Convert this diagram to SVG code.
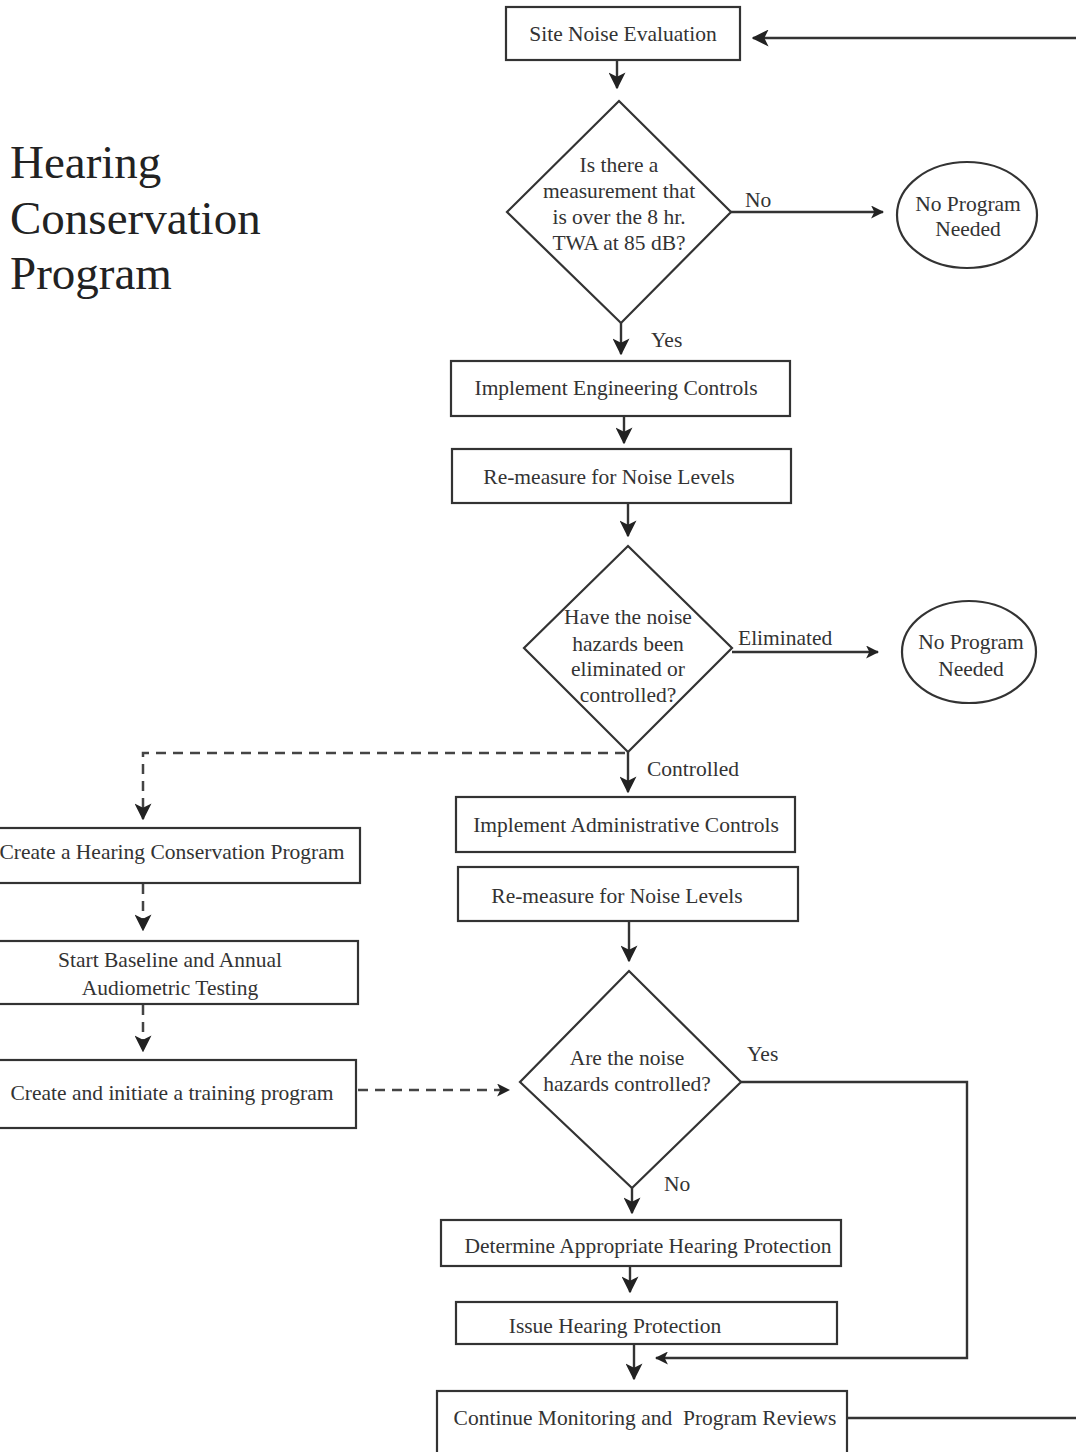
<svg xmlns="http://www.w3.org/2000/svg" width="1076" height="1452" viewBox="0 0 1076 1452">
<defs>
<style>
.box{fill:#fff;stroke:#333;stroke-width:2.2}
.t{font-family:"Liberation Serif","Times New Roman",serif;font-size:21.5px;fill:#333;text-anchor:middle}
.tl{font-family:"Liberation Serif","Times New Roman",serif;font-size:21.5px;fill:#333}
.title{font-family:"Liberation Serif","Times New Roman",serif;font-size:47px;fill:#222}
.c{fill:none;stroke:#333;stroke-width:2.4}
.d{fill:none;stroke:#444;stroke-width:2.5;stroke-dasharray:10 7}
</style>
<marker id="ah" viewBox="0 0 12 12" refX="11" refY="6" markerWidth="13" markerHeight="13" markerUnits="userSpaceOnUse" orient="auto">
<path d="M0,0 L12,6 L0,12 L3,6 Z" fill="#222"/>
</marker>
<marker id="ahb" viewBox="0 0 12 12" refX="11" refY="6" markerWidth="17" markerHeight="17" markerUnits="userSpaceOnUse" orient="auto">
<path d="M0,0 L12,6 L0,12 L3,6 Z" fill="#222"/>
</marker>
</defs>
<rect width="1076" height="1452" fill="#fff"/>

<g id="title">
<text class="title" x="10" y="178">Hearing</text>
<text class="title" x="10" y="234">Conservation</text>
<text class="title" x="10" y="289">Program</text>
</g>

<g id="connectors">
<line class="c" x1="1076" y1="38" x2="753" y2="38" marker-end="url(#ahb)"/>
<line class="c" x1="617" y1="60" x2="617" y2="88" marker-end="url(#ahb)"/>
<line class="c" x1="731" y1="212" x2="883" y2="212" marker-end="url(#ah)"/>
<line class="c" x1="621" y1="323" x2="621" y2="354" marker-end="url(#ahb)"/>
<line class="c" x1="624" y1="416" x2="624" y2="443" marker-end="url(#ahb)"/>
<line class="c" x1="628" y1="503" x2="628" y2="536" marker-end="url(#ahb)"/>
<line class="c" x1="732" y1="652" x2="878" y2="652" marker-end="url(#ah)"/>
<line class="c" x1="628" y1="752" x2="628" y2="792" marker-end="url(#ahb)"/>
<polyline class="d" points="625,753 143,753 143,819" marker-end="url(#ahb)"/>
<line class="d" x1="143" y1="884" x2="143" y2="930" marker-end="url(#ahb)"/>
<line class="d" x1="143" y1="1005" x2="143" y2="1051" marker-end="url(#ahb)"/>
<line class="d" x1="358" y1="1090" x2="509" y2="1090" marker-end="url(#ah)"/>
<line class="c" x1="629" y1="921" x2="629" y2="961" marker-end="url(#ahb)"/>
<polyline class="c" points="741,1082 967,1082 967,1358 656,1358" marker-end="url(#ah)"/>
<line class="c" x1="632" y1="1188" x2="632" y2="1213" marker-end="url(#ahb)"/>
<line class="c" x1="630" y1="1266" x2="630" y2="1292" marker-end="url(#ahb)"/>
<line class="c" x1="634" y1="1344" x2="634" y2="1379" marker-end="url(#ahb)"/>
<line class="c" x1="847" y1="1418" x2="1076" y2="1418"/>
<text class="tl" x="745" y="207">No</text>
<text class="tl" x="651" y="347">Yes</text>
<text class="tl" x="738" y="645">Eliminated</text>
<text class="tl" x="647" y="776">Controlled</text>
<text class="tl" x="747" y="1061">Yes</text>
<text class="tl" x="664" y="1191">No</text>
</g>

<g id="n1">
<rect class="box" x="506" y="7" width="234" height="53"/>
<text class="t" x="623" y="41">Site Noise Evaluation</text>
</g>

<g id="d1">
<polygon class="box" points="619,101 731,212 621,323 507,212"/>
<text class="t" x="619" y="172">Is there a</text>
<text class="t" x="619" y="198">measurement that</text>
<text class="t" x="619" y="224">is over the 8 hr.</text>
<text class="t" x="619" y="250">TWA at 85 dB?</text>
</g>

<g id="e1">
<ellipse class="box" cx="967" cy="215" rx="70" ry="53"/>
<text class="t" x="968" y="211">No Program</text>
<text class="t" x="968" y="236">Needed</text>
</g>

<g id="n2">
<rect class="box" x="451" y="361" width="339" height="55"/>
<text class="t" x="616" y="395">Implement Engineering Controls</text>
</g>

<g id="n3">
<rect class="box" x="452" y="449" width="339" height="54"/>
<text class="t" x="609" y="484">Re-measure for Noise Levels</text>
</g>

<g id="d2">
<polygon class="box" points="628,546 732,648 628,752 524,648"/>
<text class="t" x="628" y="624">Have the noise</text>
<text class="t" x="628" y="651">hazards been</text>
<text class="t" x="628" y="676">eliminated or</text>
<text class="t" x="628" y="702">controlled?</text>
</g>

<g id="e2">
<ellipse class="box" cx="969" cy="652" rx="67" ry="51"/>
<text class="t" x="971" y="649">No Program</text>
<text class="t" x="971" y="676">Needed</text>
</g>

<g id="n4">
<rect class="box" x="-2" y="828" width="362" height="55"/>
<text class="t" x="172" y="859">Create a Hearing Conservation Program</text>
</g>

<g id="n5">
<rect class="box" x="-2" y="941" width="360" height="63"/>
<text class="t" x="170" y="967">Start Baseline and Annual</text>
<text class="t" x="170" y="995">Audiometric Testing</text>
</g>

<g id="n6">
<rect class="box" x="-2" y="1060" width="358" height="68"/>
<text class="t" x="172" y="1100">Create and initiate a training program</text>
</g>

<g id="n7">
<rect class="box" x="456" y="797" width="339" height="55"/>
<text class="t" x="626" y="832">Implement Administrative Controls</text>
</g>

<g id="n8">
<rect class="box" x="458" y="867" width="340" height="54"/>
<text class="t" x="617" y="903">Re-measure for Noise Levels</text>
</g>

<g id="d3">
<polygon class="box" points="629,971 741,1082 632,1188 520,1082"/>
<text class="t" x="627" y="1065">Are the noise</text>
<text class="t" x="627" y="1091">hazards controlled?</text>
</g>

<g id="n9">
<rect class="box" x="441" y="1220" width="400" height="46"/>
<text class="t" x="648" y="1253">Determine Appropriate Hearing Protection</text>
</g>

<g id="n10">
<rect class="box" x="456" y="1302" width="381" height="42"/>
<text class="t" x="615" y="1333">Issue Hearing Protection</text>
</g>

<g id="n11">
<rect class="box" x="437" y="1391" width="410" height="70"/>
<text class="t" x="645" y="1425" xml:space="preserve">Continue Monitoring and  Program Reviews</text>
</g>
</svg>
